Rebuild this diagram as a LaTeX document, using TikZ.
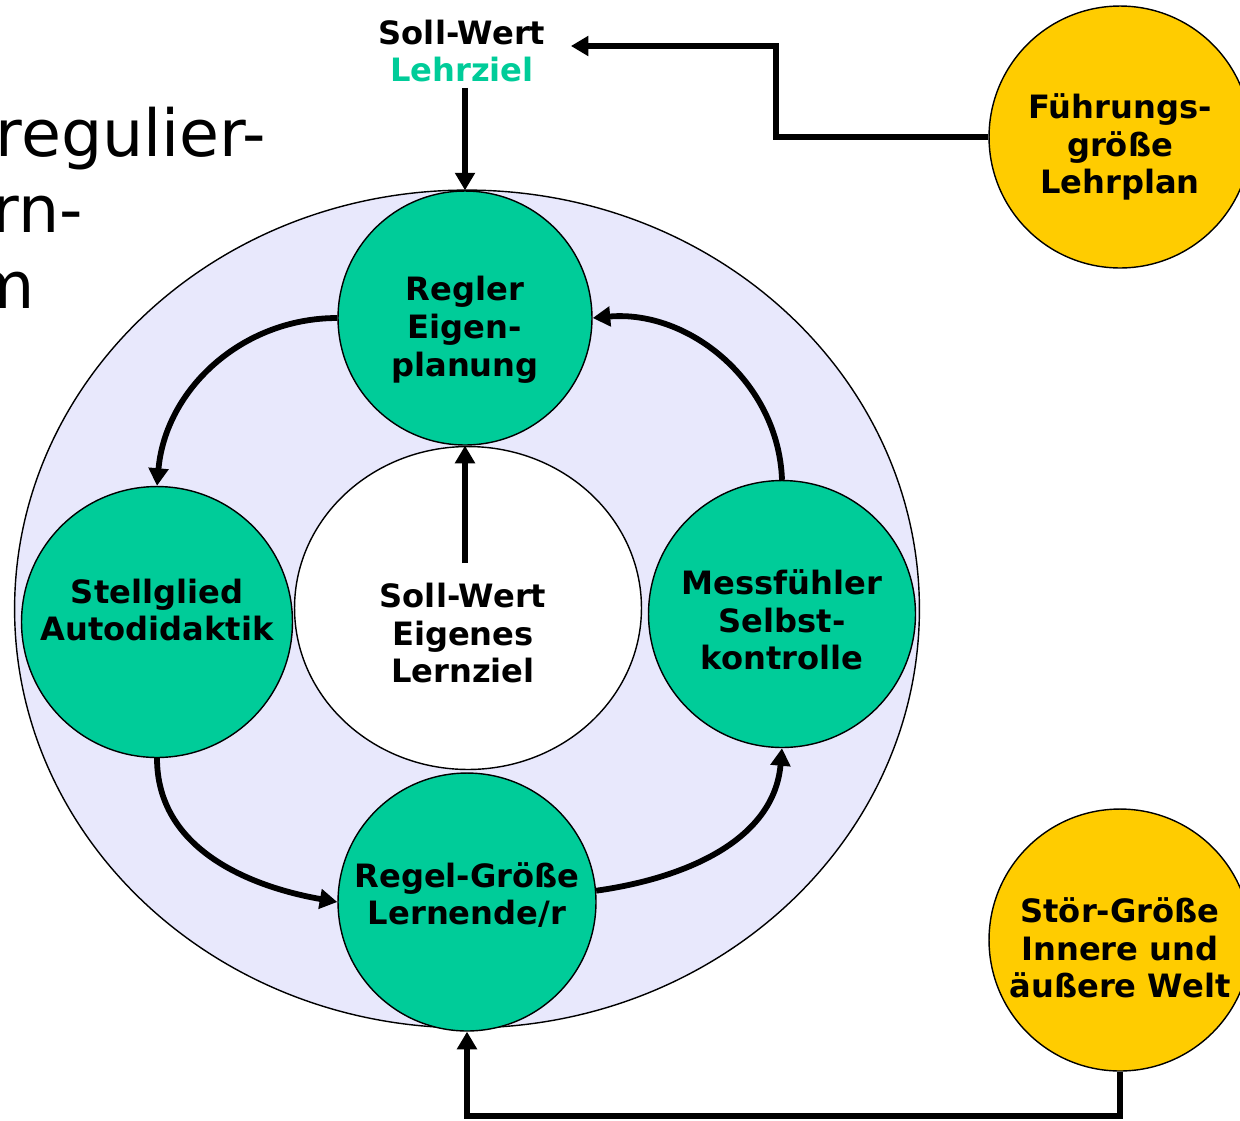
\documentclass[tikz,border=0pt]{standalone}
\usepackage{fontspec}
\setmainfont{DejaVu Sans}
\usetikzlibrary{shapes.geometric,arrows.meta}

\definecolor{regelgruen}{RGB}{0,204,153}
\definecolor{stoergelb}{RGB}{255,204,0}
\definecolor{lavendel}{RGB}{232,232,252}

\tikzset{
  schrift/.style={align=center,inner sep=0pt,font=\bfseries\fontsize{18.3}{21.5}\selectfont},
  kreis/.style={circle,draw,line width=0.8pt,inner sep=0pt},
  gruen/.style={kreis,fill=regelgruen},
  gelb/.style={kreis,fill=stoergelb,minimum size=5.24cm},
  titel/.style={inner sep=0pt,font=\fontsize{37}{40}\selectfont},
  pfeil/.style={line width=3.3pt,-{Triangle[length=10pt,width=11pt]}}
}

\begin{document}
\begin{tikzpicture}[x=0.02cm,y=-0.02cm]
      \clip (0,0) rectangle (1240,1120);
      \useasboundingbox (0,0) rectangle (1240,1120);
      % Titel links (angeschnitten)
      \node[titel,anchor=base east] (t1) at (266,156) {regulier-};
      \node[titel,anchor=base east] (t2) at (83,232) {rn-};
      \node[titel,anchor=base east] (t3) at (35,308) {m};
      % Regelkreis
      \node[ellipse,draw,line width=0.8pt,fill=lavendel,minimum width=18.1cm,minimum height=16.76cm] (aussen) at (467,609) {};
      \node[ellipse,draw,line width=0.8pt,fill=white,minimum width=6.94cm,minimum height=6.46cm] (innen) at (468,608) {};
      \node[schrift] (sollinnen) at (463,633) {Soll-Wert\\Eigenes\\Lernziel};
      \node[gruen,minimum size=5.08cm,label={[schrift,name=reglertext,yshift=-6.8pt]center:{Regler\\Eigen-\\planung}}] (regler) at (465,318) {};
      \node[gruen,minimum size=5.42cm,label={[schrift,name=stelltext,yshift=6.8pt]center:{Stellglied\\Autodidaktik}}] (stell) at (157,622) {};
      \node[gruen,minimum size=5.34cm,label={[schrift,name=messtext,yshift=-3.4pt]center:{Messfühler\\Selbst-\\kontrolle}}] (mess) at (782,614) {};
      \node[gruen,minimum size=5.16cm,label={[schrift,name=regelgrtext,yshift=4pt]center:{Regel-Größe\\Lernende/r}}] (regelgr) at (467,902) {};
      % Einflussgroessen
      \node[gelb,label={[schrift,name=fuehrungtext,yshift=-5.7pt]center:{Führungs-\\größe\\Lehrplan}}] (fuehrung) at (1120,137) {};
      \node[gelb,label={[schrift,name=stoertext,yshift=-4.5pt]center:{Stör-Größe\\Innere und\\äußere Welt}}] (stoer) at (1120,940) {};
      \node[schrift,inner sep=3pt] (sollwert) at (462,51) {Soll-Wert\\\textcolor{regelgruen}{Lehrziel}};
      % Pfeile
      \draw[pfeil] (sollwert.south -| regler.north) -- (regler.north);
      \draw[pfeil] ([yshift=11pt]sollinnen.north -| regler.south) -- (regler.south);
      \draw[pfeil] (fuehrung.west) -- ++(-212,0) |- ([shift={(20,-5)}]sollwert.east);
      \draw[pfeil] (stoer.south) -- ++(0,44) -| (regelgr.south);
      \draw[pfeil] (regler.west) to[out=180,in=85] (stell.north);
      \draw[pfeil] (stell.south) to[out=-90,in=170] (regelgr.west);
      \draw[pfeil] (regelgr.5) to[out=8,in=-95] (mess.south);
      \draw[pfeil] (mess.north) to[out=92,in=5] (regler.east);
\end{tikzpicture}
\end{document}
